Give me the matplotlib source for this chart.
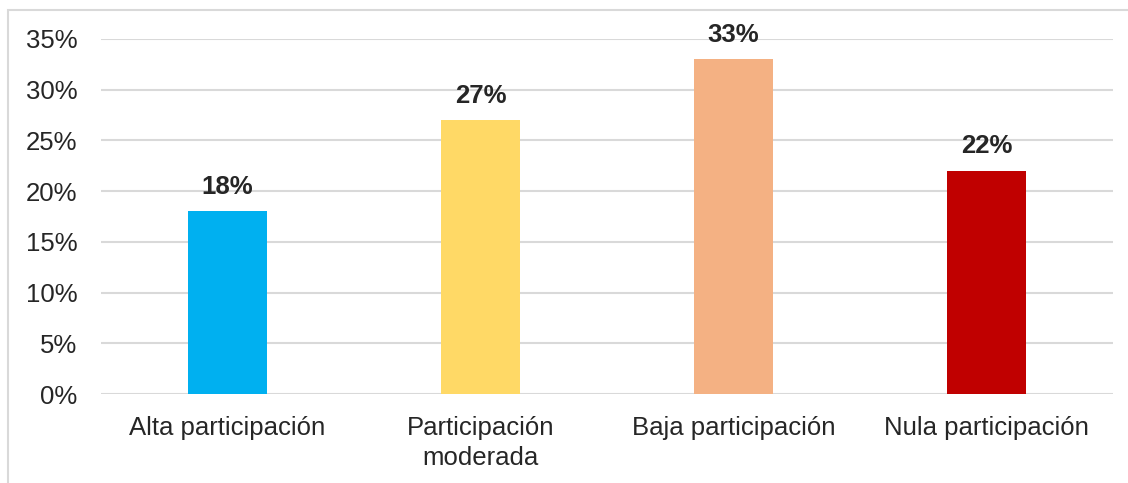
import matplotlib.pyplot as plt
from matplotlib.patches import Rectangle
from matplotlib.ticker import FuncFormatter

categorias = ["Alta participación", "Participación\nmoderada", "Baja participación", "Nula participación"]
porcentajes = [18, 27, 33, 22]
colores = ["#00B0F0", "#FFD966", "#F4B183", "#C00000"]

plt.rcParams['font.family'] = ['Liberation Sans', 'DejaVu Sans']
texto = "#262626"

fig = plt.figure(figsize=(11.28, 4.83), dpi=100)
ax = fig.add_axes([101 / 1128, 1 - 394 / 483, (1113 - 101) / 1128, (394 - 39) / 483])

# marco gris del área del gráfico
fig.patches.append(Rectangle((8 / 1128, -0.1), 1.2, 1 - 10 / 483 + 0.1,
                             transform=fig.transFigure, fill=False,
                             edgecolor="#d9d9d9", linewidth=1.5))

x = range(len(categorias))
barras = ax.bar(x, porcentajes, width=0.316, color=colores, zorder=3)

for xi, v in zip(x, porcentajes):
    ax.annotate(f"{v}%", (xi, v), xytext=(0, 9), textcoords="offset points",
                ha="center", va="bottom", fontsize=18.5, fontweight="bold",
                color=texto, annotation_clip=False)

ax.set_xlim(-0.5, 3.5)
ax.set_ylim(0, 35)
ax.set_yticks(range(0, 36, 5))
ax.yaxis.set_major_formatter(FuncFormatter(lambda v, p: f"{v:.0f}%"))
ax.set_xticks(list(x))
ax.set_xticklabels(categorias, linespacing=1.3)

ax.grid(axis="y", color="#d9d9d9", linewidth=1.5, zorder=0)
ax.tick_params(axis="both", length=0, labelsize=18.5, labelcolor=texto)
ax.tick_params(axis="y", pad=17)
ax.tick_params(axis="x", pad=16)
for s in ax.spines.values():
    s.set_visible(False)

plt.savefig("out.png", dpi=100)
